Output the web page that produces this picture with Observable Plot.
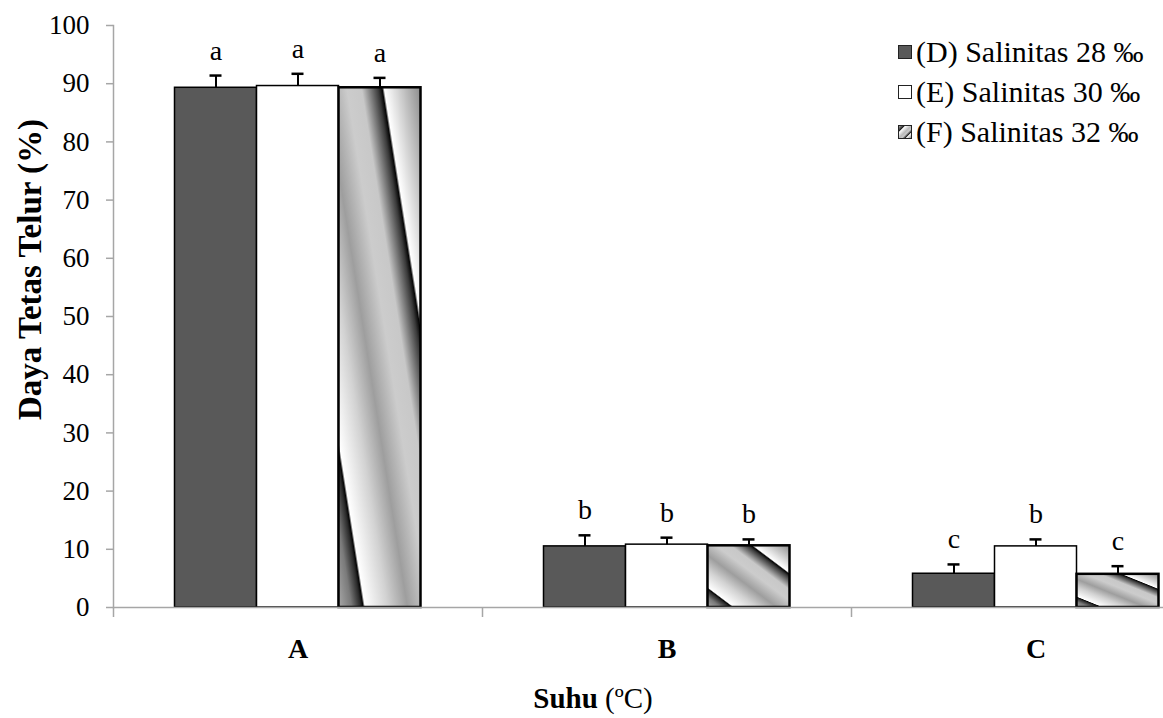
<!DOCTYPE html>
<html>
<head>
<meta charset="utf-8">
<script src="https://cdn.jsdelivr.net/npm/d3@7"></script>
<script src="https://cdn.jsdelivr.net/npm/@observablehq/plot@0.6"></script>
<style>
  body { margin: 0; background: white; }
  #wrap { position: relative; width: 1163px; height: 718px; overflow: hidden; font-family: "Liberation Serif", "Times New Roman", serif; }
  #chart svg text { font-family: "Liberation Serif", "Times New Roman", serif; }
  #legend { position: absolute; left: 898px; top: 32px; font-size: 30px; color: #000; font-family: "Liberation Serif", "Times New Roman", serif; }
  .row { display: flex; align-items: center; height: 40px; white-space: nowrap; }
  .sw { width: 12px; height: 12px; border: 1.5px solid #222; margin-right: 4px; box-sizing: content-box; }
  #xtitle { position: absolute; left: 0; width: 1186px; top: 682px; text-align: center; font-size: 29px; font-family: "Liberation Serif", "Times New Roman", serif; }
</style>
</head>
<body>
<div id="wrap">
  <div id="chart"></div>
  <div id="legend"></div>
  <div id="xtitle"><b>Suhu</b> (ºC)</div>
</div>
<script>
const categories = ["A", "B", "C"];
const seriesNames = ["(D) Salinitas 28 ‰", "(E) Salinitas 30 ‰", "(F) Salinitas 32 ‰"];
const valuesD = [89.3, 10.5, 5.8];
const valuesE = [89.6, 10.8, 10.5];
const valuesF = [89.3, 10.6, 5.7];
const errorsD = [2.1, 1.9, 1.6];
const errorsE = [2.1, 1.2, 1.2];
const errorsF = [1.7, 1.1, 1.4];
const lettersD = ["a", "b", "c"];
const lettersE = ["a", "b", "b"];
const lettersF = ["a", "b", "c"];
const yTicks = [0, 10, 20, 30, 40, 50, 60, 70, 80, 90, 100];

const seriesValues = [valuesD, valuesE, valuesF];
const seriesErrors = [errorsD, errorsE, errorsF];
const seriesLetters = [lettersD, lettersE, lettersF];
const fills = ["#595959", "#ffffff", "url(#gradF)"];

const W = 1163, H = 718;
const x0 = 113, x1 = 1220;
const bw = (x1 - x0) / categories.length;
const barW = bw / 4.5;
const gap = 0.75 * barW;
const grey = "#a6a6a6";
const font = '"Liberation Serif", "Times New Roman", serif';

const rows = [];
seriesNames.forEach((s, i) => categories.forEach((c, j) => rows.push({
  cat: c, si: i, series: s, value: seriesValues[i][j], err: seriesErrors[i][j], letter: seriesLetters[i][j]
})));

function defs() {
  const ns = "http://www.w3.org/2000/svg";
  const d = document.createElementNS(ns, "defs");
  d.innerHTML = `<linearGradient id="gradF" x1="0" y1="1" x2="1" y2="0">
    <stop offset="0" stop-color="#a8a8a8"/>
    <stop offset="0.08" stop-color="#7a7a7a"/>
    <stop offset="0.135" stop-color="#2a2a2a"/>
    <stop offset="0.15" stop-color="#050505"/>
    <stop offset="0.162" stop-color="#ffffff"/>
    <stop offset="0.3" stop-color="#d2d2d2"/>
    <stop offset="0.42" stop-color="#9e9e9e"/>
    <stop offset="0.55" stop-color="#cccccc"/>
    <stop offset="0.64" stop-color="#c8c8c8"/>
    <stop offset="0.74" stop-color="#3a3a3a"/>
    <stop offset="0.765" stop-color="#050505"/>
    <stop offset="0.778" stop-color="#ffffff"/>
    <stop offset="1" stop-color="#8c8c8c"/>
  </linearGradient>`;
  return d;
}

const marks = [defs];
for (let i = 0; i < 3; i++) {
  const data = rows.filter(r => r.si === i);
  const inL = gap + i * barW, inR = bw - gap - (i + 1) * barW;
  const cx = (i - 1) * barW;
  marks.push(Plot.barY(data, {
    x: "cat", y: "value", fill: fills[i], stroke: "#000",
    strokeWidth: i === 2 ? 2.5 : 1.5, insetLeft: inL, insetRight: inR
  }));
  marks.push(Plot.ruleX(data, {
    x: "cat", y1: "value", y2: d => d.value + d.err, dx: cx, stroke: "#000", strokeWidth: 2
  }));
  marks.push(Plot.tickY(data, {
    x: "cat", y: d => d.value + d.err, dx: cx, stroke: "#000", strokeWidth: 2.5,
    insetLeft: bw / 2 - 6, insetRight: bw / 2 - 6
  }));
  marks.push(Plot.text(data, {
    x: "cat", y: d => d.value + d.err, text: "letter", dx: cx, dy: -16,
    lineAnchor: "bottom", fontSize: 28, fontFamily: font, fill: "#000"
  }));
}
marks.push(Plot.ruleY([0], {stroke: grey, strokeWidth: 1.5}));
marks.push(Plot.frame({anchor: "left", stroke: grey, strokeWidth: 1.5}));
marks.push(Plot.axisY({ticks: yTicks, tickSize: 7, tickPadding: 17, stroke: grey, strokeWidth: 1.5,
  fontSize: 27, fontFamily: font, fill: "#000", label: null}));
marks.push(Plot.axisX({ticks: categories, tickSize: 10, tickFormat: () => "", dx: -bw / 2, stroke: grey, strokeWidth: 1.5, label: null}));
marks.push(Plot.axisX({ticks: categories, tickSize: 0, tickPadding: 31, fontSize: 28, fontWeight: "bold", fontFamily: font, fill: "#000", label: null}));
marks.push(Plot.text(["Daya Tetas Telur (%)"], {frameAnchor: "left", textAnchor: "middle", dx: -83, dy: -47, rotate: -90,
  fontSize: 33, fontWeight: "bold", fontFamily: font, fill: "#000"}));

const chart = Plot.plot({
  width: W, height: H,
  marginLeft: x0, marginTop: 25, marginBottom: 111, marginRight: 0,
  style: {fontFamily: font, background: "white", overflow: "hidden"},
  x: {domain: categories, range: [x0, x1], padding: 0, axis: null},
  y: {domain: [0, 100], axis: null},
  marks
});
document.getElementById("chart").appendChild(chart);

const legendSw = [
  'background:#595959',
  'background:#ffffff',
  'background:linear-gradient(135deg,#a8a8a8 0%,#1a1a1a 22%,#ffffff 26%,#bbbbbb 50%,#cccccc 62%,#222 76%,#fff 80%,#8c8c8c 100%)'
];
const leg = document.getElementById("legend");
seriesNames.forEach((s, i) => {
  const r = document.createElement("div");
  r.className = "row";
  r.innerHTML = `<span class="sw" style="${legendSw[i]}"></span><span>${s}</span>`;
  leg.appendChild(r);
});
</script>
</body>
</html>
